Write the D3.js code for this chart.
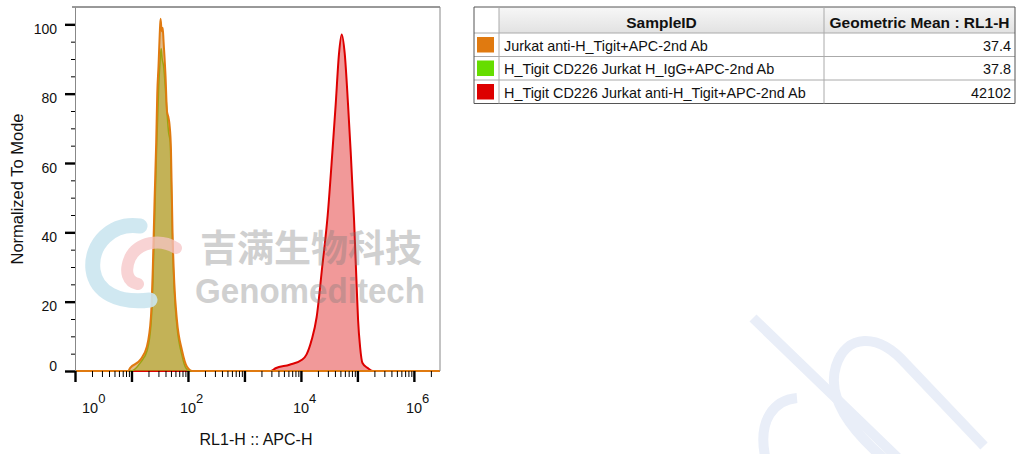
<!DOCTYPE html>
<html>
<head>
<meta charset="utf-8">
<script src="https://cdn.jsdelivr.net/npm/d3@7"></script>
<style>
  body { margin: 0; background: #fff; }
  svg { display: block; font-family: Arial, "Liberation Sans", sans-serif; }
</style>
</head>
<body>
<svg id="chart" width="1016" height="454"></svg>
<script>
// RL1-H channel values and normalized-to-mode counts
const orangeX = [1, 8.7, 9.5, 14.3, 18.7, 22.1, 23.9, 25.6, 27.4, 28.6, 30.1, 31.6, 32.7, 34.3, 35.7, 37, 40.1, 42.5, 45.3, 47.2, 50, 53.3, 57.3, 63.8, 78.3, 96.2, 119, 2.9e6];
const orangeY = [0, 0, 0.9, 3.2, 7, 15.6, 30, 49, 66, 80, 88, 97, 101.6, 98, 99, 95, 85, 75, 73, 71, 64, 40, 25.4, 14.7, 6, 1.2, 0, 0];
const greenX = [1, 9.8, 14.5, 19, 22.3, 24.1, 25.8, 27.6, 30.3, 32, 33.5, 35, 37, 41.2, 45.3, 48.5, 50.6, 53.3, 57.3, 63.8, 78.3, 92, 105, 2.9e6];
const greenY = [0, 0, 2.5, 6, 14, 27, 45, 62, 82, 89, 93, 90, 88, 78, 69, 66, 55, 37, 23, 13, 4.5, 0.8, 0, 0];
const redX = [1, 2900, 3556, 6295, 10600, 12600, 15500, 18970, 23800, 29800, 36000, 41300, 47200, 52700, 59600, 68200, 76200, 87300, 97300, 102800, 111500, 123000, 150700, 187000, 2.9e6];
const redY = [0, 0, 0.8, 1.8, 3.3, 4.8, 9, 15.5, 30, 45, 63, 77, 91.5, 97.1, 91.6, 77, 63, 43.5, 24, 14.7, 7, 2.3, 0.9, 0, 0];

// legend table
const sampleIds = ['Jurkat anti-H_Tigit+APC-2nd Ab', 'H_Tigit CD226 Jurkat H_IgG+APC-2nd Ab', 'H_Tigit CD226 Jurkat anti-H_Tigit+APC-2nd Ab'];
const geoMeans = ['37.4', '37.8', '42102'];
const sampleColors = ['#e07a10', '#66dd00', '#dd0000'];

const yMajor = [0, 20, 40, 60, 80, 100];
const xLabelDecades = [0, 2, 4, 6];

const svg = d3.select('#chart');
const x = d3.scaleLog().domain([1, 2.9e6]).range([75, 440]);
const y = d3.scaleLinear().domain([0, 105]).range([371, 7]);

// lower-right decoration
const deco = svg.append('g').attr('fill', 'none').attr('stroke', '#e9eef8').attr('stroke-width', 10);
deco.append('path').attr('d', 'M753,318 L900,460');
deco.append('path').attr('d', 'M888,462 C852,432 826,398 836,366 C846,334 878,332 906,364 L984,446');
deco.append('path').attr('d', 'M797,398 C774,400 758,420 765,456');

// histograms
const series = [
  { xs: redX, ys: redY, stroke: '#dd0000', fill: 'rgba(221,0,0,0.4)', w: 2 },
  { xs: greenX, ys: greenY, stroke: '#74c800', fill: 'rgba(110,200,0,0.42)', w: 1.5 },
  { xs: orangeX, ys: orangeY, stroke: '#e07a10', fill: 'rgba(196,128,30,0.52)', w: 2 }
];
svg.append('clipPath').attr('id', 'plot-clip').append('rect').attr('x', 75).attr('y', 5).attr('width', 366).attr('height', 368);
const hg = svg.append('g').attr('clip-path', 'url(#plot-clip)');
series.forEach(s => {
  const pts = s.xs.map((v, i) => [v, s.ys[i]]);
  const area = d3.area().x(d => x(d[0])).y0(y(0)).y1(d => y(d[1])).curve(d3.curveMonotoneX);
  const line = d3.line().x(d => x(d[0])).y(d => y(d[1])).curve(d3.curveMonotoneX);
  hg.append('path').datum(pts).attr('d', area).attr('fill', s.fill);
  hg.append('path').datum(pts).attr('d', line).attr('fill', 'none').attr('stroke', s.stroke).attr('stroke-width', s.w).attr('stroke-linejoin', 'round');
});

// frame
svg.append('line').attr('x1', 72).attr('x2', 440).attr('y1', 7).attr('y2', 7).attr('stroke', '#333');
svg.append('line').attr('x1', 440).attr('x2', 440).attr('y1', 7).attr('y2', 371).attr('stroke', '#888');

// y axis
const yMinorAxis = svg.append('g').attr('transform', 'translate(75,0)')
  .call(d3.axisLeft(y).tickValues(d3.range(5, 105, 5)).tickSize(4).tickSizeOuter(0).tickFormat(''));
yMinorAxis.select('.domain').attr('stroke', '#888');
yMinorAxis.selectAll('.tick line').attr('stroke', '#000');
const yAxis = svg.append('g').attr('transform', 'translate(75,0)')
  .call(d3.axisLeft(y).tickValues(yMajor).tickSize(10).tickPadding(8).tickSizeOuter(0));
yAxis.select('.domain').remove();
yAxis.selectAll('.tick line').attr('stroke', '#000').attr('stroke-width', 2.4);
yAxis.selectAll('.tick text').attr('dy', d => d === 0 ? '-0.05em' : '0.66em').attr('font-size', 14).attr('fill', '#111')
  .attr('font-family', 'Arial, "Liberation Sans", sans-serif');

// x axis
const minorTicks = [];
for (let e = 0; e <= 6; e++) for (let k = 2; k <= 9; k++) { const v = k * Math.pow(10, e); if (v <= 2.9e6) minorTicks.push(v); }
const xMinor = svg.append('g').attr('transform', 'translate(0,371)')
  .call(d3.axisBottom(x).tickValues(minorTicks).tickSize(6).tickSizeOuter(0).tickFormat(''));
xMinor.select('.domain').remove();
xMinor.selectAll('.tick line').attr('stroke', '#000');
const xMajor = svg.append('g').attr('transform', 'translate(0,371)')
  .call(d3.axisBottom(x).tickValues(d3.range(0, 7).map(e => Math.pow(10, e))).tickSize(11).tickSizeOuter(0).tickFormat(''));
xMajor.select('.domain').remove();
xMajor.selectAll('.tick line').attr('stroke', '#000').attr('stroke-width', 2.4);

xLabelDecades.forEach(e => {
  const cx = Math.max(x(Math.pow(10, e)), 90);
  const t = svg.append('text').attr('x', cx - 8).attr('y', 413).attr('font-size', 14.5).attr('fill', '#111');
  t.append('tspan').text('10');
  t.append('tspan').attr('dy', -10).attr('font-size', 13).text(e);
});

// axis titles
svg.append('text').attr('x', 256).attr('y', 445).attr('text-anchor', 'middle').attr('font-size', 16).attr('fill', '#111').text('RL1-H :: APC-H');
svg.append('text').attr('transform', 'translate(23,189) rotate(-90)').attr('text-anchor', 'middle').attr('font-size', 16.5).attr('fill', '#111').text('Normalized To Mode');

// watermark
const wm = svg.append('g');
wm.append('path').attr('d', 'M140,226 C112,222 90,244 93,270 C96,292 118,304 150,300')
  .attr('fill', 'none').attr('stroke', '#cbe6ef').attr('stroke-width', 15).attr('stroke-linecap', 'round').attr('opacity', 0.9);
wm.append('path').attr('d', 'M176,248 C160,238 138,242 130,258 C124,272 128,282 138,284')
  .attr('fill', 'none').attr('stroke', '#f5c4c6').attr('stroke-width', 12).attr('stroke-linecap', 'round').attr('opacity', 0.75);
wm.append('text').attr('x', 200).attr('y', 262).attr('font-family', '"Noto Sans CJK SC", sans-serif').attr('font-weight', 'bold')
  .attr('font-size', 37).attr('textLength', 222).attr('lengthAdjust', 'spacingAndGlyphs').attr('fill', '#7a7a7a').attr('opacity', 0.35).text('吉满生物科技');
wm.append('text').attr('x', 195).attr('y', 303).attr('font-weight', 'bold')
  .attr('font-size', 35).attr('textLength', 230).attr('lengthAdjust', 'spacingAndGlyphs').attr('fill', '#7a7a7a').attr('opacity', 0.35).text('Genomeditech');

// legend table
const cols = [474, 499, 824, 1015];
const rows = [7, 33, 56.5, 80, 103.5];
const defs = svg.append('defs');
const grad = defs.append('linearGradient').attr('id', 'hdr').attr('x1', 0).attr('x2', 0).attr('y1', 0).attr('y2', 1);
grad.append('stop').attr('offset', '0%').attr('stop-color', '#f7f7f7');
grad.append('stop').attr('offset', '100%').attr('stop-color', '#e2e2e2');
const tb = svg.append('g');
tb.append('rect').attr('x', cols[1]).attr('y', rows[0]).attr('width', cols[3] - cols[1]).attr('height', rows[1] - rows[0]).attr('fill', 'url(#hdr)');
rows.forEach((r, i) => tb.append('line').attr('x1', cols[0]).attr('x2', cols[3]).attr('y1', r).attr('y2', r)
  .attr('stroke', i === 0 || i === rows.length - 1 ? '#555' : '#aaa'));
cols.forEach((c, i) => tb.append('line').attr('x1', c).attr('x2', c).attr('y1', rows[0]).attr('y2', rows[rows.length - 1])
  .attr('stroke', i === 0 || i === cols.length - 1 ? '#555' : '#aaa'));
tb.append('text').attr('x', (cols[1] + cols[2]) / 2).attr('y', rows[1] - 5).attr('text-anchor', 'middle').attr('font-weight', 'bold').attr('font-size', 15.5).attr('fill', '#111').text('SampleID');
tb.append('text').attr('x', (cols[2] + cols[3]) / 2).attr('y', rows[1] - 5).attr('text-anchor', 'middle').attr('font-weight', 'bold').attr('font-size', 15.5).attr('fill', '#111').text('Geometric Mean : RL1-H');
sampleIds.forEach((s, i) => {
  const top = rows[i + 1], bot = rows[i + 2];
  tb.append('rect').attr('x', 477).attr('y', top + 4).attr('width', 17).attr('height', bot - top - 8).attr('fill', sampleColors[i]);
  tb.append('text').attr('x', 504).attr('y', bot - 6).attr('font-size', 14.4).attr('fill', '#111').text(s);
  tb.append('text').attr('x', 1011).attr('y', bot - 6).attr('text-anchor', 'end').attr('font-size', 14.4).attr('fill', '#111').text(geoMeans[i]);
});
</script>
</body>
</html>
